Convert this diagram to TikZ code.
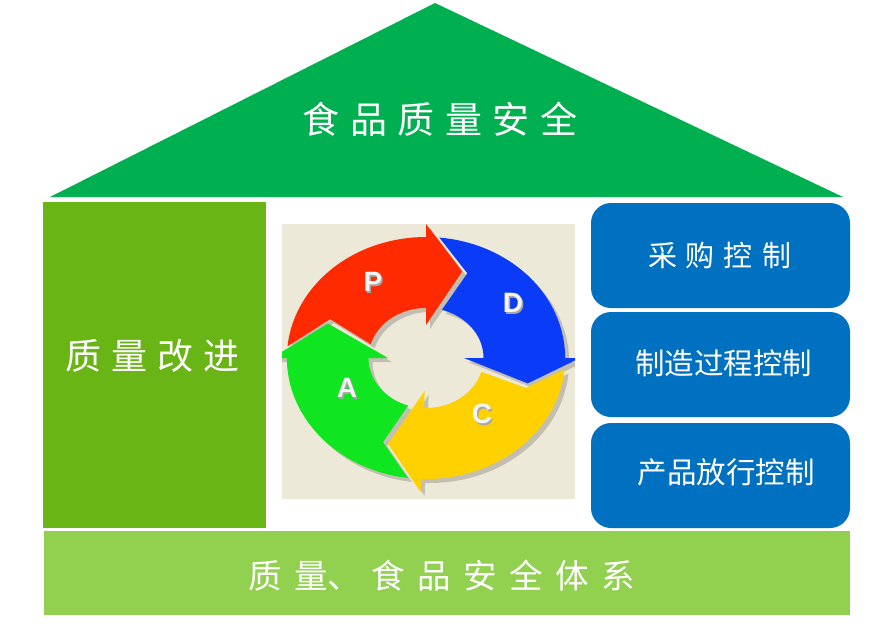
\documentclass[tikz,border=0pt]{standalone}
\usepackage{fontspec}
\setmainfont{Liberation Sans}
\newfontfamily\cjk{Noto Sans CJK SC}
\definecolor{roofgreen}{HTML}{00B050}
\definecolor{leftgreen}{HTML}{69B516}
\definecolor{boxblue}{HTML}{0070C0}
\definecolor{bargreen}{HTML}{92D050}
\definecolor{panelbg}{HTML}{ECE9D8}
\definecolor{pred}{HTML}{FF2A00}
\definecolor{pblue}{HTML}{0A3CF8}
\definecolor{pyellow}{HTML}{FFD100}
\definecolor{pgreen}{HTML}{10E620}
\definecolor{pshadow}{HTML}{C2BFB2}
\newcommand\pdcaArrow[6]{%
  \fill[#1] (#2:121) -- plot[domain=#2:#5, samples=40] (\x:121) -- (#5:134) -- (#6:92) -- (#5:33) -- (#5:50) -- plot[domain=#5:#3, samples=40] (\x:50) -- (#4:92) -- cycle;
}
\newcommand\pdcaAll[4]{%
  \pdcaArrow{#1}{185.5}{196}{205}{270}{290}
  \pdcaArrow{#2}{275.5}{286}{293}{360}{376}
  \pdcaArrow{#3}{365.5}{376}{379}{452}{471}
  \pdcaArrow{#4}{457.5}{468}{474}{540}{562}
}
\tikzset{
  cjktext/.style={text=white, inner sep=0pt, font=\cjk},
  letter/.style={inner sep=0pt, font=\bfseries\fontsize{28}{30}\selectfont},
}
\begin{document}
\begin{tikzpicture}[x=1pt, y=-1pt]
\useasboundingbox (0,0) rectangle (870,629);
\fill[white] (0,0) rectangle (870,629);
% roof
\fill[roofgreen] (50,197) -- (435,3) -- (843,197) -- cycle;
\node[cjktext, font=\cjk\fontsize{37}{40}\selectfont] (roof) at (440,119) {食\hspace{10.5pt}品\hspace{10.5pt}质\hspace{10.5pt}量\hspace{10.5pt}安\hspace{10.5pt}全};
% left pillar
\fill[leftgreen] (43,202) rectangle (266,528);
\node[cjktext, font=\cjk\fontsize{36}{40}\selectfont] (improve) at (152.5,355.5) {质\hspace{10pt}量\hspace{10pt}改\hspace{10pt}进};
% right boxes
\fill[boxblue, rounded corners=20pt] (591,203) rectangle (850,308);
\fill[boxblue, rounded corners=20pt] (591,312) rectangle (850,417);
\fill[boxblue, rounded corners=20pt] (591,423) rectangle (850,528);
\node[cjktext, font=\cjk\fontsize{29}{32}\selectfont] (buy) at (719.5,255) {采\hspace{9pt}购\hspace{9pt}控\hspace{9pt}制};
\node[cjktext, font=\cjk\fontsize{29.5}{32}\selectfont] (make) at (723.5,363) {制造过程控制};
\node[cjktext, font=\cjk\fontsize{29.5}{32}\selectfont] (release) at (726,472) {产品放行控制};
% base bar
\fill[bargreen] (44,531) rectangle (850,615);
\node[cjktext, font=\cjk\fontsize{33.5}{36}\selectfont] (base) at (441.5,576) {质\hspace{12.5pt}量、\hspace{10pt}食\hspace{12.5pt}品\hspace{12.5pt}安\hspace{12.5pt}全\hspace{12.5pt}体\hspace{12.5pt}系};
% PDCA panel
\fill[panelbg] (282,224) rectangle (575,499);
\begin{scope}
\clip (282,224) rectangle (575,499);
\begin{scope}[shift={(430,362)}, xscale=1.15]
  \pdcaAll{pshadow}{pshadow}{pshadow}{pshadow}
\end{scope}
\begin{scope}[shift={(426,358)}, xscale=1.15]
  \pdcaAll{pred}{pblue}{pyellow}{pgreen}
\end{scope}
\end{scope}
\foreach \n/\t/\px/\py in {lp/P/373/282, ld/D/513/303, lc/C/482/414, la/A/347/388}{
  \node[letter, text=black!35] at (\px+1.5,\py+1.5) {\t};
  \node[letter, text=white!92!gray] (\n) at (\px,\py) {\t};
}
\end{tikzpicture}
\end{document}
